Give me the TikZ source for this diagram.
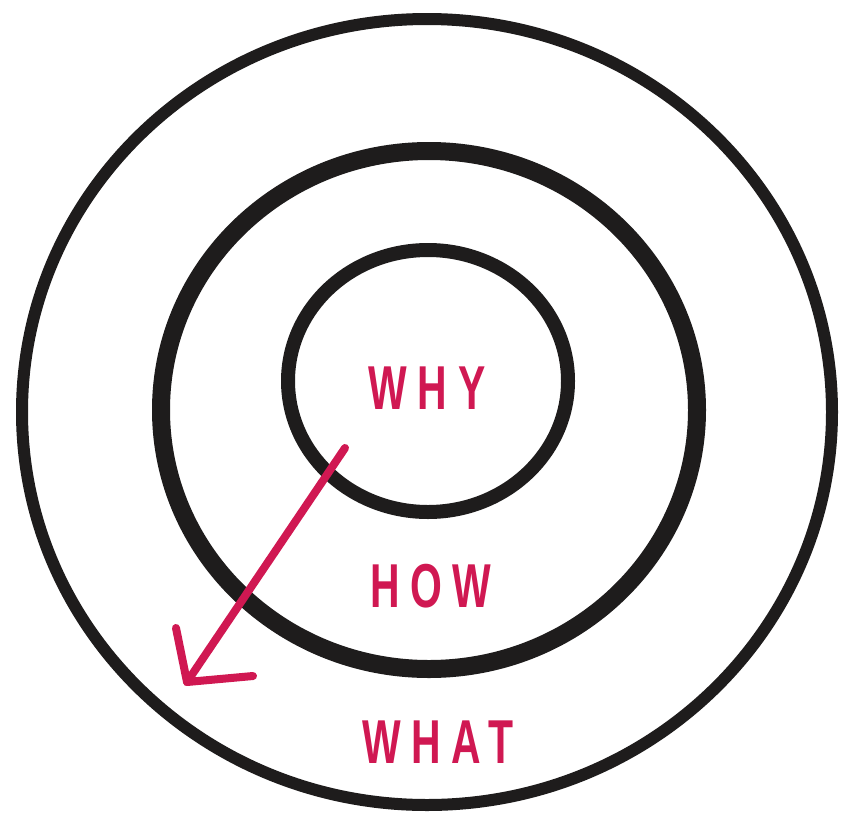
\documentclass[tikz,border=0pt]{standalone}
\usepackage{fontspec}
\setmainfont{Liberation Sans}
\definecolor{ink}{RGB}{30,28,28}
\definecolor{pinkred}{RGB}{208,24,82}
\tikzset{
  ring/.style={draw=ink, line cap=round},
  label/.style={text=pinkred, font=\bfseries\fontsize{62}{62}\selectfont\addfontfeature{LetterSpace=26}, xscale=0.66, anchor=center, inner sep=0pt},
  pointer/.style={draw=pinkred, line width=8pt, line cap=round, line join=round}
}
\begin{document}
\begin{tikzpicture}[x=1pt,y=-1pt]
\useasboundingbox (0,0) rectangle (846,817);
\fill[white] (0,0) rectangle (846,817);
% rings
\draw[ring, line width=12pt] (427,412) ellipse [x radius=405, y radius=393];
\draw[ring, line width=18pt] (429,410) ellipse [x radius=268, y radius=259];
\draw[ring, line width=14pt] (428,381) ellipse [x radius=140, y radius=131];
% labels
\node[label] (why) at (427,388) {WHY};
\node[label] (how) at (431,586) {HOW};
\node[label] (what) at (438,742) {WHAT};
% arrow
\coordinate (start) at (345,448);
\coordinate (tip) at (187,682);
\coordinate (wingA) at (176,628);
\coordinate (wingB) at (253,676);
\draw[pointer] (start) -- (tip);
\draw[pointer] (wingA) -- (tip) -- (wingB);
\end{tikzpicture}
\end{document}
